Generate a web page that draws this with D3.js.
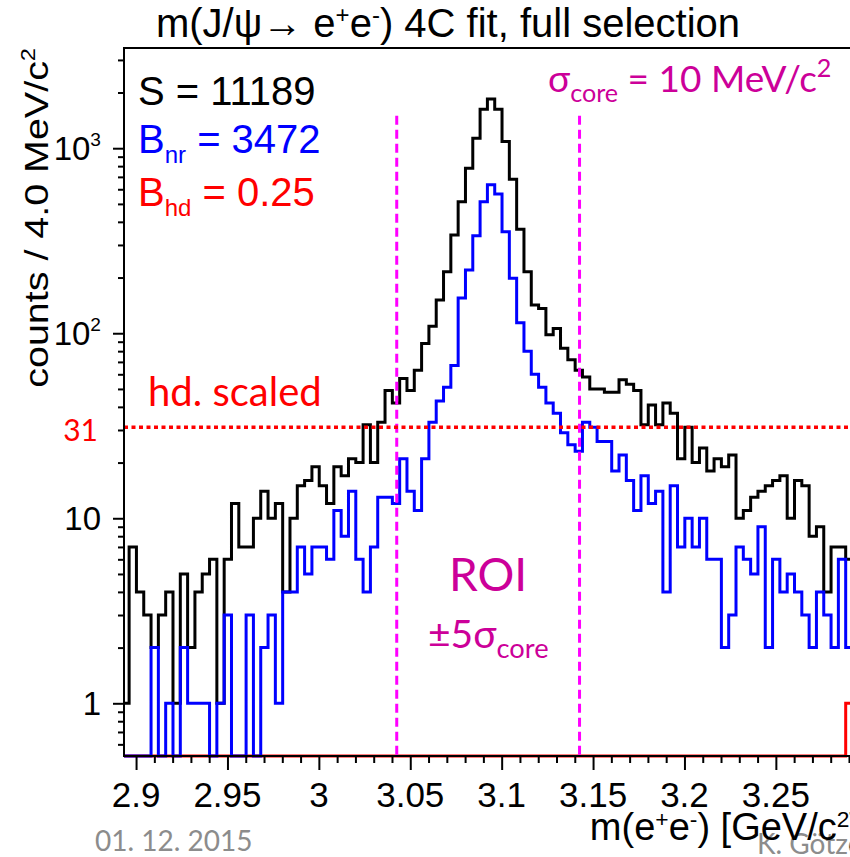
<!DOCTYPE html>
<html>
<head>
<meta charset="utf-8">
<script src="https://cdn.jsdelivr.net/npm/d3@7/dist/d3.min.js"></script>
<style>
    body { margin: 0; background: #fff; }
    svg { display: block; }
</style>
</head>
<body>
<svg id="chart" width="850" height="857"></svg>
<script>
(function(){
    "use strict";

    // histogram binning: 100 bins of 4 MeV
    var binLow = 2.8922;
    var binWidth = 0.004;

    // all candidates (black)
    var totalCounts = [
        1, 7, 4, 3, 2, 3, 4, 1, 5, 2,
        4, 5, 6, 1, 6, 12, 7, 7, 10, 14,
        10, 12, 4, 10, 15, 16, 19, 15, 12, 19,
        17, 21, 20, 32, 20, 33, 49, 42, 57, 49,
        63, 88, 109, 151, 215, 340, 514, 780, 1133, 1626,
        1846, 1626, 1086, 680, 365, 215, 142, 136, 98, 106,
        83, 72, 63, 58, 50, 50, 48, 48, 56, 53,
        49, 32, 41, 32, 42, 37, 21, 31, 20, 24,
        18, 21, 19, 22, 10, 11, 13, 14, 15, 16,
        17, 10, 16, 15, 8, 9, 4, 7, 7, 6
    ];

    // non-resonant background (blue)
    var nonResCounts = [
        0, 0, 0, 0, 2, 0, 1, 0, 2, 1,
        1, 1, 0, 1, 3, 0, 0, 3, 0, 2,
        3, 1, 4, 4, 7, 5, 7, 7, 6, 11,
        8, 14, 6, 4, 7, 13, 13, 12, 21, 14,
        11, 21, 33, 43, 51, 67, 155, 220, 336, 514,
        634, 566, 354, 198, 114, 80, 60, 51, 42, 37,
        29, 25, 23, 33, 31, 26, 26, 18, 22, 16,
        11, 17, 12, 14, 4, 15, 7, 10, 7, 10,
        6, 6, 2, 3, 7, 6, 5, 9, 2, 6,
        4, 5, 4, 3, 2, 4, 3, 2, 6, 2
    ];

    // hadronic background (red)
    var hadronicCounts = [
        0, 0, 0, 0, 0, 0, 0, 0, 0, 0,
        0, 0, 0, 0, 0, 0, 0, 0, 0, 0,
        0, 0, 0, 0, 0, 0, 0, 0, 0, 0,
        0, 0, 0, 0, 0, 0, 0, 0, 0, 0,
        0, 0, 0, 0, 0, 0, 0, 0, 0, 0,
        0, 0, 0, 0, 0, 0, 0, 0, 0, 0,
        0, 0, 0, 0, 0, 0, 0, 0, 0, 0,
        0, 0, 0, 0, 0, 0, 0, 0, 0, 0,
        0, 0, 0, 0, 0, 0, 0, 0, 0, 0,
        0, 0, 0, 0, 0, 0, 0, 0, 0, 1
    ];

    var roiEdges = [3.0426, 3.1426];
    var roiTopValue = 1500;
    var hdScaledLevel = 31;

    var xMajorTicks = [2.9, 2.95, 3.0, 3.05, 3.1, 3.15, 3.2, 3.25];
    var xTickLabels = ["2.9", "2.95", "3", "3.05", "3.1", "3.15", "3.2", "3.25"];
    var yMajorTicks = [1, 10, 100, 1000];
    var yTickLabels = [["1"], ["10"], ["10", "2"], ["10", "3"]];

    var rootFont = "'Liberation Sans', Arial, Helvetica, sans-serif";
    var slideFont = "Lato, 'Open Sans', sans-serif";
    var magentaText = "#cc0099";
    var footerGray = "#8c8c8c";

    var frame = {left: 124, top: 48, right: 853, bottom: 756};

    var svg = d3.select("#chart");

    var x = d3.scaleLinear()
        .domain([2.8934, 3.2922])
        .range([frame.left, frame.right]);

    var y = d3.scaleLog()
        .domain([0.519, 3480])
        .range([frame.bottom, frame.top]);

    /*
        adds a text made of parts, each part is [string, shift in px, size factor]
        shift < 0 raises (superscript), shift > 0 lowers (subscript)
    */
    function addRich(parent, px, py, parts, size, color, anchor, family){
        var t = parent.append("text")
            .attr("x", px)
            .attr("y", py)
            .attr("font-size", size)
            .attr("font-family", family)
            .attr("fill", color)
            .attr("text-anchor", anchor || "start");
        var off = 0;
        parts.forEach(function(p){
            var shift = p[1] || 0;
            var s = t.append("tspan").text(p[0]).attr("dy", shift - off);
            if(p[2]){
                s.attr("font-size", size * p[2]);
            }
            off = shift;
        });
        return t;
    }

    /*
        builds the step outline of a histogram, empty bins sit on the frame bottom
    */
    function stepPath(counts){
        var yMin = y.domain()[0];
        var d = "";
        for(var i = 0; i < counts.length; i++){
            var x0 = x(binLow + i * binWidth);
            var x1 = x(binLow + (i + 1) * binWidth);
            var yy = y(Math.max(counts[i], yMin));
            d += (i === 0 ? "M" + x0 + "," + yy : "V" + yy) + "H" + x1;
        }
        return d;
    }

    // footer, the signature sits behind the axis title
    addRich(svg, 757, 854, [["K. G\u00F6tzen", 0]], 28, footerGray, "start", slideFont);
    addRich(svg, 95, 851, [["01. 12. 2015", 0]], 28, footerGray, "start", slideFont);

    svg.append("defs").append("clipPath").attr("id", "frameClip")
        .append("rect")
        .attr("x", frame.left)
        .attr("y", frame.top)
        .attr("width", frame.right - frame.left)
        .attr("height", frame.bottom - frame.top + 3);

    var plot = svg.append("g").attr("clip-path", "url(#frameClip)");

    plot.append("path")
        .attr("d", stepPath(hadronicCounts))
        .attr("fill", "none")
        .attr("stroke", "#ff0000")
        .attr("stroke-width", 3);

    plot.append("path")
        .attr("d", stepPath(totalCounts))
        .attr("fill", "none")
        .attr("stroke", "#000")
        .attr("stroke-width", 3);

    plot.append("path")
        .attr("d", stepPath(nonResCounts))
        .attr("fill", "none")
        .attr("stroke", "#0000ff")
        .attr("stroke-width", 3);

    // ROI borders
    plot.selectAll(".roi")
        .data(roiEdges)
        .enter().append("line")
        .attr("class", "roi")
        .attr("x1", function(d){ return x(d); })
        .attr("x2", function(d){ return x(d); })
        .attr("y1", y(roiTopValue))
        .attr("y2", frame.bottom)
        .attr("stroke", "#ff00ff")
        .attr("stroke-width", 3)
        .attr("stroke-dasharray", "9,5");

    // scaled hadronic level
    plot.append("line")
        .attr("x1", frame.left)
        .attr("x2", frame.right)
        .attr("y1", y(hdScaledLevel))
        .attr("y2", y(hdScaledLevel))
        .attr("stroke", "#ff0000")
        .attr("stroke-width", 3.5)
        .attr("stroke-dasharray", "4,3.5");

    // frame
    svg.append("rect")
        .attr("x", frame.left)
        .attr("y", frame.top)
        .attr("width", frame.right - frame.left)
        .attr("height", frame.bottom - frame.top)
        .attr("fill", "none")
        .attr("stroke", "#000")
        .attr("stroke-width", 2);

    // x axis ticks
    var xMinor = d3.range(2.90, 3.2901, 0.01).filter(function(v){
        return xMajorTicks.every(function(m){ return Math.abs(m - v) > 1e-6; });
    });
    var xAxisMajor = d3.axisBottom(x).tickValues(xMajorTicks).tickSize(14).tickFormat("");
    var xAxisMinor = d3.axisBottom(x).tickValues(xMinor).tickSize(7).tickFormat("");
    [xAxisMajor, xAxisMinor].forEach(function(ax){
        var g = svg.append("g")
            .attr("transform", "translate(0," + frame.bottom + ")")
            .call(ax);
        g.select(".domain").remove();
        g.selectAll("line").attr("stroke", "#000").attr("stroke-width", 2);
    });

    svg.append("g").selectAll("text")
        .data(xMajorTicks)
        .enter().append("text")
        .attr("x", function(d){ return x(d); })
        .attr("y", 807)
        .attr("text-anchor", "middle")
        .attr("font-family", rootFont)
        .attr("font-size", 35)
        .text(function(d, i){ return xTickLabels[i]; });

    // y axis ticks
    var yMinor = [];
    [0.1, 1, 10, 100, 1000].forEach(function(dec){
        for(var k = 2; k <= 9; k++){
            var v = dec * k;
            if(v > y.domain()[0] && v < y.domain()[1]){
                yMinor.push(v);
            }
        }
    });
    var yAxisMajor = d3.axisLeft(y).tickValues(yMajorTicks).tickSize(11).tickFormat("");
    var yAxisMinor = d3.axisLeft(y).tickValues(yMinor).tickSize(6).tickFormat("");
    [yAxisMajor, yAxisMinor].forEach(function(ax){
        var g = svg.append("g")
            .attr("transform", "translate(" + frame.left + ",0)")
            .call(ax);
        g.select(".domain").remove();
        g.selectAll("line").attr("stroke", "#000").attr("stroke-width", 2);
    });

    yMajorTicks.forEach(function(v, i){
        var lab = yTickLabels[i];
        var parts = [[lab[0], 0]];
        if(lab[1]){
            parts.push([lab[1], -14, 0.58]);
        }
        addRich(svg, 101, y(v) + 12, parts, 33, "#000", "end", rootFont);
    });

    // axis titles
    addRich(svg, 860, 840,
        [["m(e", 0], ["+", -13, 0.6], ["e", 0], ["-", -13, 0.6], [") [GeV/c", 0], ["2", -13, 0.6], ["]", 0]],
        38, "#000", "end", rootFont);

    // the plot text is drawn a bit condensed, stretch along the reading direction
    var yTitle = svg.append("g").attr("transform", "translate(48," + frame.top + ") rotate(-90) scale(1.16,1)");
    addRich(yTitle, 0, 0,
        [["counts / 4.0 MeV/c", 0], ["2", -13, 0.6]],
        34, "#000", "end", rootFont);

    // title
    addRich(svg, 448, 37,
        [["m(J/\u03C8\u2192 e", 0], ["+", -14, 0.6], ["e", 0], ["-", -14, 0.6], [") 4C fit, full selection", 0]],
        40, "#000", "middle", rootFont);

    // yields
    addRich(svg, 138, 105, [["S = 11189", 0]], 40, "#000", "start", rootFont);
    addRich(svg, 138, 153, [["B", 0], ["nr", 10, 0.6], [" = 3472", 0]], 40, "#0000ff", "start", rootFont);
    addRich(svg, 138, 206, [["B", 0], ["hd", 10, 0.6], [" = 0.25", 0]], 40, "#ff0000", "start", rootFont);

    // slide annotations
    addRich(svg, 548, 92, [["\u03C3", 0], ["core", 10, 0.68], [" =  10 MeV/c", 0], ["2", -15, 0.68]],
        37, magentaText, "start", slideFont);
    addRich(svg, 148, 406, [["hd. scaled", 0]], 40, "#ff0000", "start", slideFont);
    addRich(svg, 98, 441, [["31", 0]], 30, "#ff0000", "end", slideFont);
    addRich(svg, 449, 591, [["ROI", 0]], 46, magentaText, "start", slideFont);
    addRich(svg, 428, 648, [["\u00B15\u03C3", 0], ["core", 10, 0.7]], 39, magentaText, "start", slideFont);
}());
</script>
</body>
</html>
